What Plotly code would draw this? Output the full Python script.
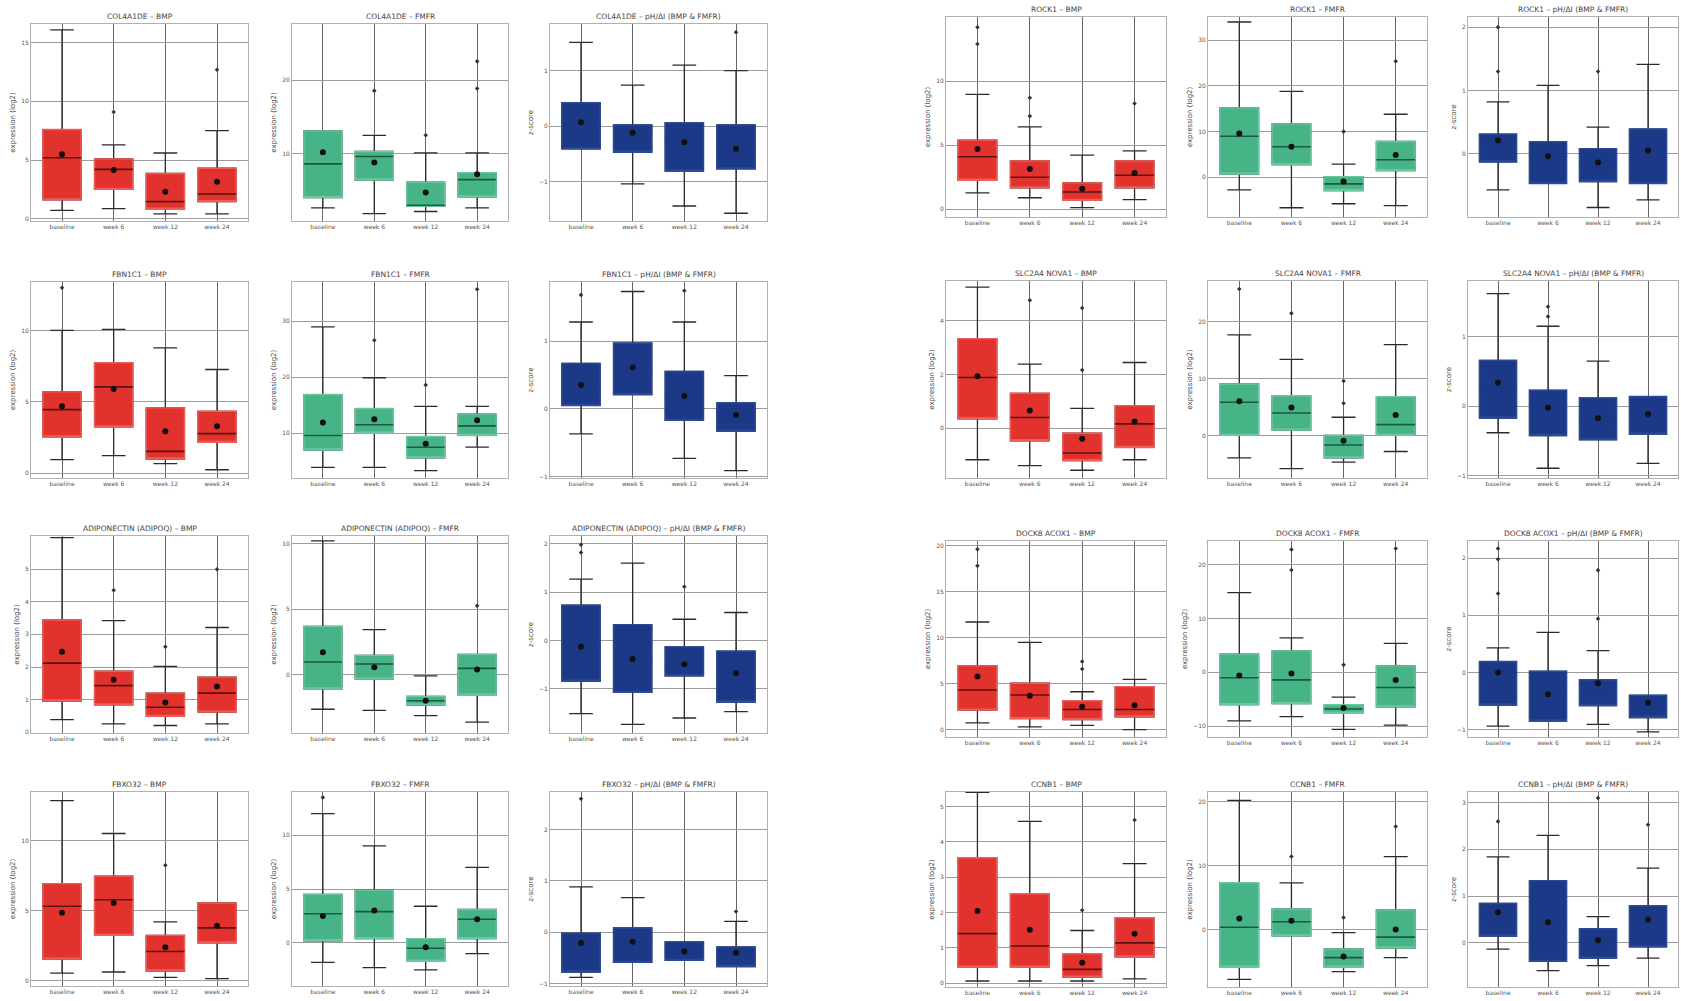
import plotly.graph_objects as go

CATEGORIES = ["baseline", "week 6", "week 12", "week 24"]

TITLES = [
    "COL4A1DE – BMP", "COL4A1DE – FMFR", "COL4A1DE – pH/ΔI (BMP & FMFR)",
    "ROCK1 – BMP", "ROCK1 – FMFR", "ROCK1 – pH/ΔI (BMP & FMFR)",
    "FBN1C1 – BMP", "FBN1C1 – FMFR", "FBN1C1 – pH/ΔI (BMP & FMFR)",
    "SLC2A4 NOVA1 – BMP", "SLC2A4 NOVA1 – FMFR", "SLC2A4 NOVA1 – pH/ΔI (BMP & FMFR)",
    "ADIPONECTIN (ADIPOQ) – BMP", "ADIPONECTIN (ADIPOQ) – FMFR", "ADIPONECTIN (ADIPOQ) – pH/ΔI (BMP & FMFR)",
    "DOCK8 ACOX1 – BMP", "DOCK8 ACOX1 – FMFR", "DOCK8 ACOX1 – pH/ΔI (BMP & FMFR)",
    "FBXO32 – BMP", "FBXO32 – FMFR", "FBXO32 – pH/ΔI (BMP & FMFR)",
    "CCNB1 – BMP", "CCNB1 – FMFR", "CCNB1 – pH/ΔI (BMP & FMFR)",
]

Y_LABELS = ["expression (log2)", "expression (log2)", "z-score",
            "expression (log2)", "expression (log2)", "z-score"]

Y_RANGES = [
    [-0.2, 16.6], [0.8, 27.7], [-1.71, 1.84], [-0.6, 15.0], [-8.7, 35.1], [-1.0, 2.16],
    [-0.35, 13.4], [2.0, 37.0], [-1.02, 1.87], [-1.86, 5.49], [-7.5, 27.2], [-1.03, 1.8],
    [-0.02, 6.01], [-4.43, 10.57], [-1.91, 2.16], [-0.8, 20.5], [-12, 24.4], [-1.13, 2.3],
    [-0.38, 13.46], [-4, 14], [-1.05, 2.73], [-0.11, 5.41], [-9, 21.5], [-0.95, 3.23],
]
Y_TICKS = [
    [0, 5, 10, 15], [10, 20], [-1, 0, 1], [0, 5, 10], [0, 10, 20, 30], [0, 1, 2],
    [0, 5, 10], [10, 20, 30], [-1, 0, 1], [0, 2, 4], [0, 10, 20], [-1, 0, 1],
    [0, 1, 2, 3, 4, 5], [0, 5, 10], [-1, 0, 1, 2], [0, 5, 10, 15, 20], [-10, 0, 10, 20], [-1, 0, 1, 2],
    [0, 5, 10], [0, 5, 10], [-1, 0, 1, 2], [0, 1, 2, 3, 4, 5], [0, 10, 20], [0, 1, 2, 3],
]

LOWER = [
    [0.7, 0.85, 0.4, 0.4], [2.6, 1.8, 2.1, 2.6], [-0.41, -1.04, -1.44, -1.57],
    [1.28, 0.9, 0.13, 0.76], [-2.75, -6.67, -5.8, -6.2], [-0.57, -0.47, -0.85, -0.73],
    [0.94, 1.22, 0.66, 0.23], [3.9, 3.9, 3.3, 7.5], [-0.37, 0.21, -0.73, -0.91],
    [-1.18, -1.40, -1.57, -1.18], [-3.96, -5.85, -4.7, -2.83], [-0.38, -0.89, -0.48, -0.82],
    [0.39, 0.26, 0.21, 0.26], [-2.62, -2.7, -3.11, -3.6], [-1.51, -1.73, -1.6, -1.47],
    [0.73, 0.3, 0.47, 0.0], [-9, -8.2, -10.6, -9.8], [-0.94, -0.85, -0.91, -1.04],
    [0.54, 0.62, 0.23, 0.15], [-1.8, -2.3, -2.5, -1.0], [-0.88, -0.59, -0.55, -0.67],
    [0.06, 0.06, 0.06, 0.12], [-7.8, -1.0, -6.6, -4.4], [-0.14, -0.6, -0.49, -0.33],
]
Q1 = [
    [1.6, 2.5, 0.8, 1.45], [4.0, 6.4, 2.8, 4.1], [-0.41, -0.47, -0.81, -0.77],
    [2.27, 1.67, 0.7, 1.67], [0.7, 2.75, -2.9, 1.45], [-0.13, -0.47, -0.44, -0.47],
    [2.53, 3.23, 0.98, 2.15], [7.0, 10.0, 5.6, 9.6], [0.05, 0.21, -0.17, -0.33],
    [0.35, -0.47, -1.21, -0.72], [0, 0.94, -3.96, 0], [-0.17, -0.42, -0.48, -0.4],
    [0.96, 0.84, 0.49, 0.62], [-1.07, -0.33, -2.3, -1.56], [-0.84, -1.07, -0.73, -1.27],
    [2.12, 1.2, 1.09, 1.39], [-6, -5.8, -7.6, -6.4], [-0.57, -0.85, -0.58, -0.79],
    [1.54, 3.23, 0.69, 2.69], [0.2, 0.4, -1.7, 0.4], [-0.78, -0.59, -0.55, -0.67],
    [0.45, 0.45, 0.17, 0.74], [-5.9, -1.0, -5.9, -2.9], [0.14, -0.4, -0.33, -0.09],
]
MEDIAN = [
    [5.2, 4.2, 1.45, 2.1], [8.6, 9.6, 2.95, 6.45], [0.05, -0.12, -0.3, -0.4],
    [4.1, 2.5, 1.35, 2.66], [9.0, 6.7, -1.45, 3.84], [0.2, -0.05, -0.15, 0.05],
    [4.45, 6.04, 1.52, 2.76], [9.6, 11.5, 7.5, 11.3], [0.35, 0.6, 0.2, -0.1],
    [1.89, 0.40, -0.93, 0.16], [5.85, 3.96, -1.7, 1.9], [0.3, -0.05, -0.2, -0.1],
    [2.12, 1.43, 0.77, 1.2], [0.98, 0.82, -1.97, 0.49], [-0.1, -0.38, -0.5, -0.67],
    [4.3, 3.76, 2.19, 2.19], [-1, -1.4, -6.8, -2.8], [0.0, -0.38, -0.2, -0.53],
    [5.31, 5.77, 2.08, 3.77], [2.7, 2.9, -0.5, 2.2], [-0.2, -0.2, -0.38, -0.4],
    [1.4, 1.05, 0.39, 1.14], [0.34, 1.2, -4.4, -1.2], [0.65, 0.44, 0.05, 0.49],
]
Q3 = [
    [7.6, 5.1, 3.85, 4.3], [13.1, 10.3, 6.1, 7.4], [0.42, 0.02, 0.06, 0.02],
    [5.4, 3.78, 2.06, 3.78], [15.2, 11.7, 0.14, 7.83], [0.31, 0.19, 0.08, 0.39],
    [5.69, 7.73, 4.57, 4.33], [16.9, 14.4, 9.4, 13.4], [0.67, 0.97, 0.55, 0.09],
    [3.34, 1.30, -0.19, 0.84], [9.06, 6.98, 0, 6.8], [0.66, 0.23, 0.12, 0.14],
    [3.44, 1.87, 1.2, 1.69], [3.69, 1.48, -1.64, 1.56], [0.73, 0.33, -0.13, -0.22],
    [6.93, 5.04, 3.14, 4.67], [3.4, 4, -6, 1.2], [0.19, 0.02, -0.13, -0.4],
    [6.92, 7.46, 3.23, 5.54], [4.5, 4.9, 0.4, 3.1], [-0.02, 0.08, -0.19, -0.29],
    [3.55, 2.53, 0.83, 1.85], [7.3, 3.2, -3.05, 3.05], [0.84, 1.33, 0.3, 0.79],
]
UPPER = [
    [16.1, 6.3, 5.6, 7.5], [13.1, 12.5, 10.1, 10.1], [1.51, 0.74, 1.10, 1.0],
    [8.96, 6.43, 4.22, 4.56], [34.0, 18.8, 2.9, 13.8], [0.82, 1.08, 0.42, 1.41],
    [10.0, 10.07, 8.78, 7.26], [29.0, 19.9, 14.8, 14.8], [1.28, 1.73, 1.28, 0.49],
    [5.26, 2.39, 0.74, 2.45], [17.7, 13.4, 3.2, 16.0], [1.62, 1.15, 0.65, 0.14],
    [5.96, 3.42, 2.02, 3.21], [10.2, 3.44, -0.08, 1.56], [1.27, 1.6, 0.44, 0.58],
    [11.7, 9.49, 4.12, 5.47], [14.8, 6.4, -4.6, 5.4], [0.43, 0.7, 0.38, -0.4],
    [12.85, 10.5, 4.2, 5.54], [12.0, 9.0, 3.4, 7.0], [0.88, 0.67, -0.19, 0.21],
    [5.4, 4.58, 1.49, 3.38], [20.2, 7.3, -0.5, 11.4], [1.84, 2.3, 0.56, 1.6],
]
MEAN = [
    [5.5, 4.15, 2.3, 3.15], [10.2, 8.8, 4.7, 7.2], [0.07, -0.12, -0.29, -0.41],
    [4.7, 3.15, 1.6, 2.84], [9.6, 6.7, -0.9, 4.9], [0.21, -0.04, -0.14, 0.05],
    [4.68, 5.9, 2.93, 3.28], [11.9, 12.5, 8.1, 12.3], [0.35, 0.61, 0.19, -0.09],
    [1.94, 0.66, -0.40, 0.25], [6.04, 4.9, -0.94, 3.58], [0.34, -0.02, -0.17, -0.11],
    [2.47, 1.61, 0.91, 1.4], [1.72, 0.57, -1.97, 0.41], [-0.13, -0.38, -0.49, -0.67],
    [5.77, 3.69, 2.48, 2.66], [-0.6, -0.2, -6.6, -1.4], [0.0, -0.38, -0.19, -0.53],
    [4.85, 5.54, 2.38, 3.92], [2.5, 3.0, -0.4, 2.2], [-0.21, -0.19, -0.38, -0.4],
    [2.04, 1.51, 0.58, 1.4], [1.7, 1.36, -4.24, 0.0], [0.65, 0.44, 0.05, 0.49],
]
OUT_CAT = [
    [1, 3], [1, 2, 3, 3], [3], [0, 0, 1, 1, 3], [2, 3], [0, 0, 2],
    [0], [1, 2, 3], [0, 2], [1, 2, 2], [0, 1, 2, 2], [1, 1],
    [1, 2, 3], [3], [0, 0, 2], [0, 0, 2, 2], [1, 1, 2, 3], [0, 0, 0, 2, 2],
    [2], [0], [0, 3], [2, 3], [1, 2, 3], [0, 2, 3],
]
OUT_VAL = [
    [9.1, 12.7], [18.6, 12.5, 18.9, 22.6], [1.69], [12.9, 14.2, 7.27, 8.7, 8.26], [10.0, 25.4], [1.3, 2.0, 1.3],
    [13.0], [26.6, 18.6, 35.7], [1.68, 1.74], [4.77, 4.48, 2.17], [25.8, 21.5, 9.6, 5.66], [1.43, 1.29],
    [4.35, 2.62, 4.99], [5.25], [1.98, 1.82, 1.11], [17.8, 19.6, 6.6, 7.4], [19, 22.8, 1.4, 23], [2.17, 1.98, 1.38, 1.79, 0.94],
    [8.23], [13.5], [2.6, 0.4], [2.06, 4.62], [11.4, 1.86, 16.1], [2.6, 3.1, 2.53],
]

# styling
FILL = {0: "#E2322D", 1: "#46B487", 2: "#1B3987"}
EDGE = {0: "#EC5E5A", 1: "#6CC6A0", 2: "#2A4A98"}
MEDC = {0: "#5E1210", 1: "#1C5A40", 2: "#1B3987"}

W, H = 1681, 1001
COL_PX = [(31, 248), (292, 508), (550, 767), (946, 1166), (1208, 1427), (1468, 1678)]
ROW_PX_LEFT = [(24, 221), (282, 478), (536, 733), (792, 986)]
ROW_PX_RIGHT = [(17, 217), (281, 478), (541, 737), (792, 987)]

fig = go.Figure()
layout = dict(
    width=W, height=H, margin=dict(l=0, r=0, t=0, b=0, autoexpand=False),
    paper_bgcolor="white", plot_bgcolor="white",
    showlegend=False, boxmode="overlay", annotations=[],
    font=dict(family="DejaVu Sans", size=6, color="#555"),
)

for i in range(24):
    r, c = divmod(i, 6)
    n = i + 1
    xa = "x" if n == 1 else f"x{n}"
    ya = "y" if n == 1 else f"y{n}"
    kind = c % 3
    x0, x1 = COL_PX[c]
    rows = ROW_PX_LEFT if c < 3 else ROW_PX_RIGHT
    t0, t1 = rows[r]

    # whiskers + caps
    fig.add_trace(go.Box(
        x=CATEGORIES, q1=Q1[i], median=MEDIAN[i], q3=Q3[i],
        lowerfence=LOWER[i], upperfence=UPPER[i],
        xaxis=xa, yaxis=ya, width=0.74, whiskerwidth=0.62,
        line=dict(color="#2b2b2b", width=1.3), fillcolor="rgba(0,0,0,0)",
        boxpoints=False, hoverinfo="skip"))
    # filled box
    fig.add_trace(go.Box(
        x=CATEGORIES, q1=Q1[i], median=Q1[i], q3=Q3[i],
        lowerfence=Q1[i], upperfence=Q3[i],
        xaxis=xa, yaxis=ya, width=0.74, whiskerwidth=0,
        line=dict(color=EDGE[kind], width=1.4), fillcolor=FILL[kind],
        boxpoints=False, hoverinfo="skip"))
    # median line
    fig.add_trace(go.Box(
        x=CATEGORIES, q1=MEDIAN[i], median=MEDIAN[i], q3=MEDIAN[i],
        lowerfence=MEDIAN[i], upperfence=MEDIAN[i],
        xaxis=xa, yaxis=ya, width=0.74, whiskerwidth=0,
        line=dict(color=MEDC[kind], width=1.6), fillcolor="rgba(0,0,0,0)",
        boxpoints=False, hoverinfo="skip"))
    # outliers
    fig.add_trace(go.Scatter(
        x=[CATEGORIES[k] for k in OUT_CAT[i]], y=OUT_VAL[i], mode="markers",
        xaxis=xa, yaxis=ya, marker=dict(color="#333", size=3.5, symbol="diamond"),
        hoverinfo="skip"))
    # means
    fig.add_trace(go.Scatter(
        x=CATEGORIES, y=MEAN[i], mode="markers", xaxis=xa, yaxis=ya,
        marker=dict(color="#111", size=6), hoverinfo="skip"))

    xd = [x0 / W, x1 / W]
    yd = [1 - t1 / H, 1 - t0 / H]
    layout["xaxis" if n == 1 else f"xaxis{n}"] = dict(
        domain=xd, anchor=ya, type="category", range=[-0.6, 3.6],
        showgrid=True, gridcolor="#666666", gridwidth=1,
        showline=True, mirror=True, linecolor="#b0b0b0", linewidth=1,
        ticks="", tickfont=dict(size=6, color="#555"), zeroline=False,
        automargin=False, fixedrange=True)
    layout["yaxis" if n == 1 else f"yaxis{n}"] = dict(
        domain=yd, anchor=xa, range=Y_RANGES[i], tickvals=Y_TICKS[i],
        showgrid=True, gridcolor="#9c9c9c", gridwidth=1,
        showline=True, mirror=True, linecolor="#b0b0b0", linewidth=1,
        ticks="", tickfont=dict(size=6, color="#555"), zeroline=False,
        title=dict(text=Y_LABELS[c], font=dict(size=7, color="#444"), standoff=4),
        automargin=False, fixedrange=True)
    layout["annotations"].append(dict(
        text=TITLES[i], xref="paper", yref="paper",
        x=(x0 + x1) / 2 / W, y=1 - (t0 - 8) / H,
        showarrow=False, xanchor="center", yanchor="middle",
        font=dict(size=7.5, color="#444")))

fig.update_layout(**layout)
# remove the browser's default 8px body margin so the figure sits at (0, 0)
fig.write_html("out.html", config={"displayModeBar": False},
               post_script="document.body.style.margin='0px';")
